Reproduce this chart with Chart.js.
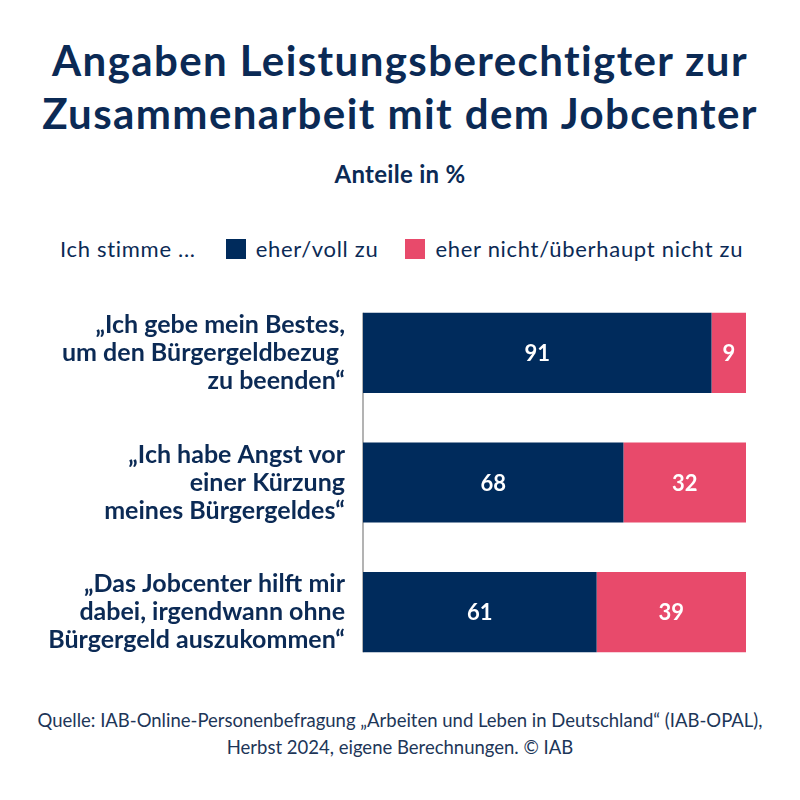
<!DOCTYPE html>
<html lang="de">
<head>
<meta charset="utf-8">
<script src="https://cdn.jsdelivr.net/npm/chart.js@4.4.1/dist/chart.umd.min.js"></script>
<style>
  html, body { margin: 0; padding: 0; background: #fff; }
  body { width: 800px; height: 800px; position: relative; overflow: hidden; font-family: Lato, sans-serif; color: #0b2a55; }
  #title { position: absolute; top: 34px; left: 0; width: 800px; text-align: center; font-weight: 700; font-size: 42px; line-height: 53px; letter-spacing: 1.4px; }
  #subtitle { position: absolute; top: 160px; left: 0; width: 800px; text-align: center; font-weight: 700; font-size: 24px; line-height: 28px; letter-spacing: 0.3px; }
  #legend { position: absolute; top: 236px; left: 60px; height: 26px; line-height: 26px; display: flex; align-items: center; font-size: 22px; letter-spacing: 0.7px; white-space: nowrap; }
  #legend .box { width: 20px; height: 20px; display: inline-block; margin-right: 10px; }
  #source { position: absolute; top: 707px; left: 0; width: 800px; text-align: center; font-size: 18.5px; line-height: 27px; color: #1d3658; }
  #wrap { position: absolute; top: 288px; left: 0; width: 800px; height: 389px; }
</style>
</head>
<body>
<div id="title">Angaben Leistungsberechtigter zur<br>Zusammenarbeit mit dem Jobcenter</div>
<div id="subtitle">Anteile in %</div>
<div id="legend"></div>
<div id="wrap"><canvas id="chart"></canvas></div>
<div id="source">Quelle: IAB-Online-Personenbefragung „Arbeiten und Leben in Deutschland“ (IAB-OPAL),<br>Herbst 2024, eigene Berechnungen. © IAB</div>

<script>
// Data
const statements = [
    ['„Ich gebe mein Bestes,', 'um den Bürgergeldbezug ', 'zu beenden“'],
    ['„Ich habe Angst vor', 'einer Kürzung', 'meines Bürgergeldes“'],
    ['„Das Jobcenter hilft mir', 'dabei, irgendwann ohne', 'Bürgergeld auszukommen“']
];
const agree = [91, 68, 61];
const disagree = [9, 32, 39];
const seriesNames = ['eher/voll zu', 'eher nicht/überhaupt nicht zu'];
const legendIntro = 'Ich stimme ...';

const navy = '#002b5c';
const pink = '#e84a6b';
const textColor = '#0b2a55';

// Build the legend row
function buildLegend() {
    const legend = document.getElementById('legend');
    let html = '<span style="margin-right:30px">' + legendIntro + '</span>';
    const colors = [navy, pink];
    seriesNames.forEach(function (name, i) {
        html += '<span class="box" style="background:' + colors[i] + '"></span>';
        html += '<span style="margin-right:' + (i === 0 ? 27 : 0) + 'px">' + name + '</span>';
    });
    legend.innerHTML = html;
}

// Thin grey axis line from the top of the first bar to the bottom of the last
const axisLine = {
    id: 'axisLine',
    beforeDatasetsDraw(chart) {
        const bars = chart.getDatasetMeta(0).data;
        if (!bars.length) return;
        const first = bars[0], last = bars[bars.length - 1];
        const ctx = chart.ctx;
        ctx.save();
        ctx.strokeStyle = '#9a9a9a';
        ctx.lineWidth = 1.5;
        ctx.beginPath();
        ctx.moveTo(chart.chartArea.left, first.y - first.height / 2);
        ctx.lineTo(chart.chartArea.left, last.y + last.height / 2);
        ctx.stroke();
        ctx.restore();
    }
};

// White value labels in the middle of each segment
const valueLabels = {
    id: 'valueLabels',
    afterDatasetsDraw(chart) {
        const ctx = chart.ctx;
        ctx.save();
        ctx.fillStyle = '#ffffff';
        ctx.font = '700 22px Lato';
        ctx.textAlign = 'center';
        ctx.textBaseline = 'middle';
        chart.data.datasets.forEach(function (ds, i) {
            chart.getDatasetMeta(i).data.forEach(function (bar, j) {
                ctx.fillText(String(ds.data[j]), (bar.x + bar.base) / 2, bar.y + 1);
            });
        });
        ctx.restore();
    }
};

function createChart() {
    buildLegend();
    const ctx = document.getElementById('chart').getContext('2d');
    new Chart(ctx, {
        type: 'bar',
        data: {
            labels: statements,
            datasets: [
                { label: seriesNames[0], data: agree, backgroundColor: navy },
                { label: seriesNames[1], data: disagree, backgroundColor: pink }
            ]
        },
        options: {
            indexAxis: 'y',
            responsive: true,
            maintainAspectRatio: false,
            animation: false,
            layout: { padding: { left: 0, right: 54, top: 0, bottom: 0 } },
            datasets: {
                bar: { barPercentage: 0.618, categoryPercentage: 1, borderWidth: 0 }
            },
            scales: {
                x: { stacked: true, min: 0, max: 100, display: false },
                y: {
                    stacked: true,
                    grid: { display: false, drawTicks: false },
                    border: { display: false },
                    ticks: {
                        color: textColor,
                        padding: 18,
                        font: { family: 'Lato', size: 25, weight: '700', lineHeight: 1.12 }
                    },
                    afterFit(scale) {
                        scale.width = 363;
                        // keep the multi-line labels from shrinking the plot height
                        scale.paddingTop = 0;
                        scale.paddingBottom = 0;
                    }
                }
            },
            plugins: {
                legend: { display: false },
                title: { display: false },
                tooltip: { enabled: false }
            }
        },
        plugins: [axisLine, valueLabels]
    });
}

window.onload = createChart;
</script>
</body>
</html>
